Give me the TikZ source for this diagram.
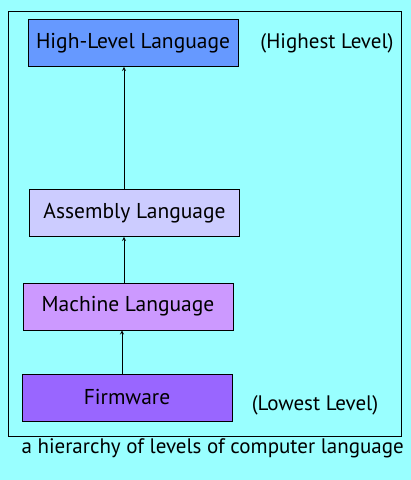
\documentclass[tikz,border=0pt]{standalone}
\usepackage{fontspec}
\setmainfont{PT Sans}
\tikzset{
    level/.style={draw, line width=0.8pt, minimum width=210pt, minimum height=47pt, inner sep=0pt, font=\fontsize{21.5}{24}\selectfont},
    note/.style={font=\fontsize{21}{24}\selectfont},
}
\definecolor{bgcyan}{HTML}{99FFFF}
\definecolor{highblue}{HTML}{6699FF}
\definecolor{asmlilac}{HTML}{CCCCFF}
\definecolor{machviolet}{HTML}{CC99FF}
\definecolor{firmpurple}{HTML}{9966FF}
\begin{document}
\begin{tikzpicture}[x=1pt, y=-1pt]
    \fill[bgcyan] (0,0) rectangle (411,480);
    \useasboundingbox (0,0) rectangle (411,480);
    \draw[line width=0.8pt] (8,11) rectangle (401,436);
    \node[level, fill=highblue] (high) at (133,43) {High-Level Language};
    \node[level, fill=asmlilac] (asm) at (134.5,213) {Assembly Language};
    \node[level, fill=machviolet] (mach) at (128,306.5) {Machine Language};
    \node[level, fill=firmpurple] (firm) at (127,397.5) {Firmware};
    \node[note] (highest) at (327,43) {(Highest Level)};
    \node[note] (lowest) at (315,405) {(Lowest Level)};
    \node[note, anchor=west] (caption) at (18,448) {a hierarchy of levels of computer language};
    \draw[-stealth, line width=0.8pt] ([xshift=-5pt]firm.north) -- ([xshift=-6pt]mach.south);
    \draw[-stealth, line width=0.8pt] ([xshift=-4pt]mach.north) -- ([xshift=-10.5pt]asm.south);
    \draw[-stealth, line width=0.8pt] ([xshift=-10.5pt]asm.north) -- ([xshift=-9pt]high.south);
\end{tikzpicture}
\end{document}
